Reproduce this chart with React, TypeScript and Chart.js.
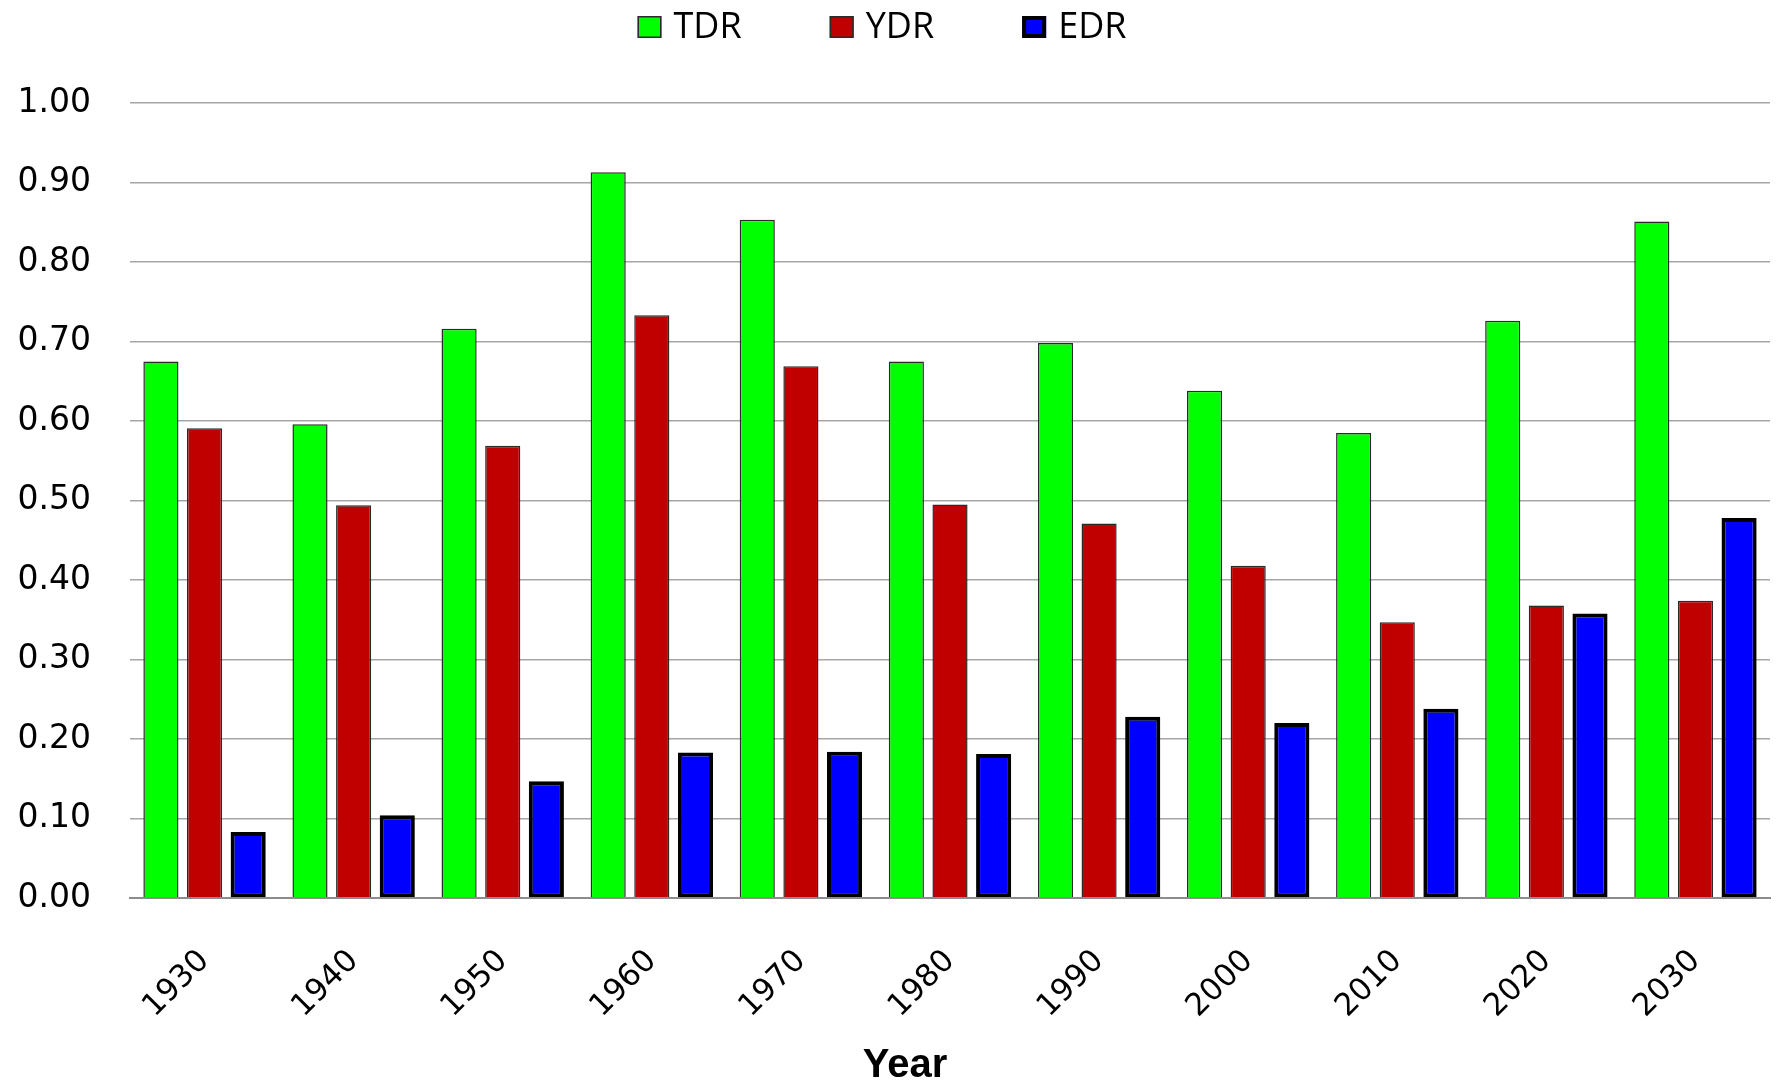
import React, { useEffect, useRef } from 'react';
import { Chart, registerables } from 'chart.js';

Chart.register(...registerables);

const years: string[] = ['1930', '1940', '1950', '1960', '1970', '1980', '1990', '2000', '2010', '2020', '2030'];
const tdrValues: number[] = [0.675, 0.596, 0.716, 0.913, 0.853, 0.675, 0.698, 0.638, 0.585, 0.726, 0.851];
const ydrValues: number[] = [0.591, 0.494, 0.569, 0.733, 0.669, 0.495, 0.471, 0.418, 0.347, 0.368, 0.374];
const edrValues: number[] = [0.083, 0.104, 0.147, 0.183, 0.184, 0.181, 0.228, 0.220, 0.238, 0.358, 0.478];
const seriesNames: string[] = ['TDR', 'YDR', 'EDR'];
const axisTitle = 'Year';

const legendPlugin = {
  id: 'customLegend',
  afterDraw(chart: any) {
    const ctx = chart.ctx;
    ctx.save();
    ctx.font = '36px "Open Sans"';
    const items = chart.data.datasets.map((ds: any) => ({
      label: ds.label,
      fill: ds.backgroundColor,
      stroke: ds.borderColor,
      lw: ds.borderWidth,
    }));
    const box = 24;
    const boxH = 22;
    const gap = 12;
    const spacing = 88;
    const widths = items.map((it: any) => box + gap + ctx.measureText(it.label).width);
    const total = widths.reduce((a: number, b: number) => a + b, 0) + spacing * (items.length - 1);
    let x = chart.width / 2 - 6 - total / 2;
    const cy = 27;
    items.forEach((it: any, i: number) => {
      ctx.fillStyle = it.fill;
      ctx.fillRect(x, cy - boxH / 2, box, boxH);
      ctx.lineWidth = it.lw;
      ctx.strokeStyle = it.stroke;
      ctx.strokeRect(x + it.lw / 2, cy - boxH / 2 + it.lw / 2, box - it.lw, boxH - it.lw);
      ctx.fillStyle = '#000';
      ctx.textBaseline = 'middle';
      ctx.textAlign = 'left';
      ctx.fillText(it.label, x + box + gap, cy + 1);
      x += widths[i] + spacing;
    });

    // x-axis title, centred slightly left of the plot centre as in the original
    const area = chart.chartArea;
    ctx.font = 'bold 40px "Liberation Sans"';
    ctx.textAlign = 'center';
    ctx.textBaseline = 'alphabetic';
    ctx.fillStyle = '#000';
    ctx.fillText(axisTitle, (area.left + area.right) / 2 - 45, chart.height - 8);
    ctx.restore();
  },
};

export default function App() {
  const canvasRef = useRef<HTMLCanvasElement | null>(null);

  useEffect(() => {
    const canvas = canvasRef.current;
    if (!canvas) return;
    const chart = new Chart(canvas, {
      type: 'bar',
      data: {
        labels: years,
        datasets: [
          {
            label: seriesNames[0],
            data: tdrValues,
            backgroundColor: '#00ff00',
            borderColor: '#2a2a2a',
            borderWidth: 1.5,
          },
          {
            label: seriesNames[1],
            data: ydrValues,
            backgroundColor: '#c00000',
            borderColor: '#2a2a2a',
            borderWidth: 1.5,
          },
          {
            label: seriesNames[2],
            data: edrValues,
            backgroundColor: '#0000ff',
            borderColor: '#000000',
            borderWidth: 4,
            borderSkipped: false,
          },
        ],
      },
      options: {
        responsive: false,
        animation: false,
        datasets: {
          bar: {
            categoryPercentage: 0.878,
            barPercentage: 0.805,
          },
        },
        layout: {
          padding: { top: 103, right: 6, bottom: 44, left: 0 },
        },
        plugins: {
          legend: { display: false },
          tooltip: { enabled: false },
        },
        scales: {
          x: {
            grid: { display: false, drawTicks: false },
            border: { display: true, color: '#8c8c8c', width: 2, z: 1 },
            ticks: {
              color: '#000',
              font: { family: 'DejaVu Sans', size: 31 },
              maxRotation: 45,
              minRotation: 45,
              padding: 45,
            },
            afterFit: (scale: any) => {
              scale.height = 143;
            },
          },
          y: {
            min: 0,
            max: 1,
            grid: { color: '#a6a6a6', lineWidth: 1.5, drawTicks: false },
            border: { display: false },
            ticks: {
              stepSize: 0.1,
              color: '#000',
              font: { family: 'DejaVu Sans', size: 33 },
              padding: 39,
              callback: (v: any) => Number(v).toFixed(2),
            },
            afterFit: (scale: any) => {
              scale.width = 130;
            },
          },
        },
      },
      plugins: [legendPlugin],
    });
    return () => chart.destroy();
  }, []);

  return (
    <div style={{ position: 'absolute', left: 0, top: 0, width: 1776, height: 1085, background: '#fff' }}>
      <canvas ref={canvasRef} width={1776} height={1085} style={{ width: 1776, height: 1085, display: 'block' }} />
    </div>
  );
}
